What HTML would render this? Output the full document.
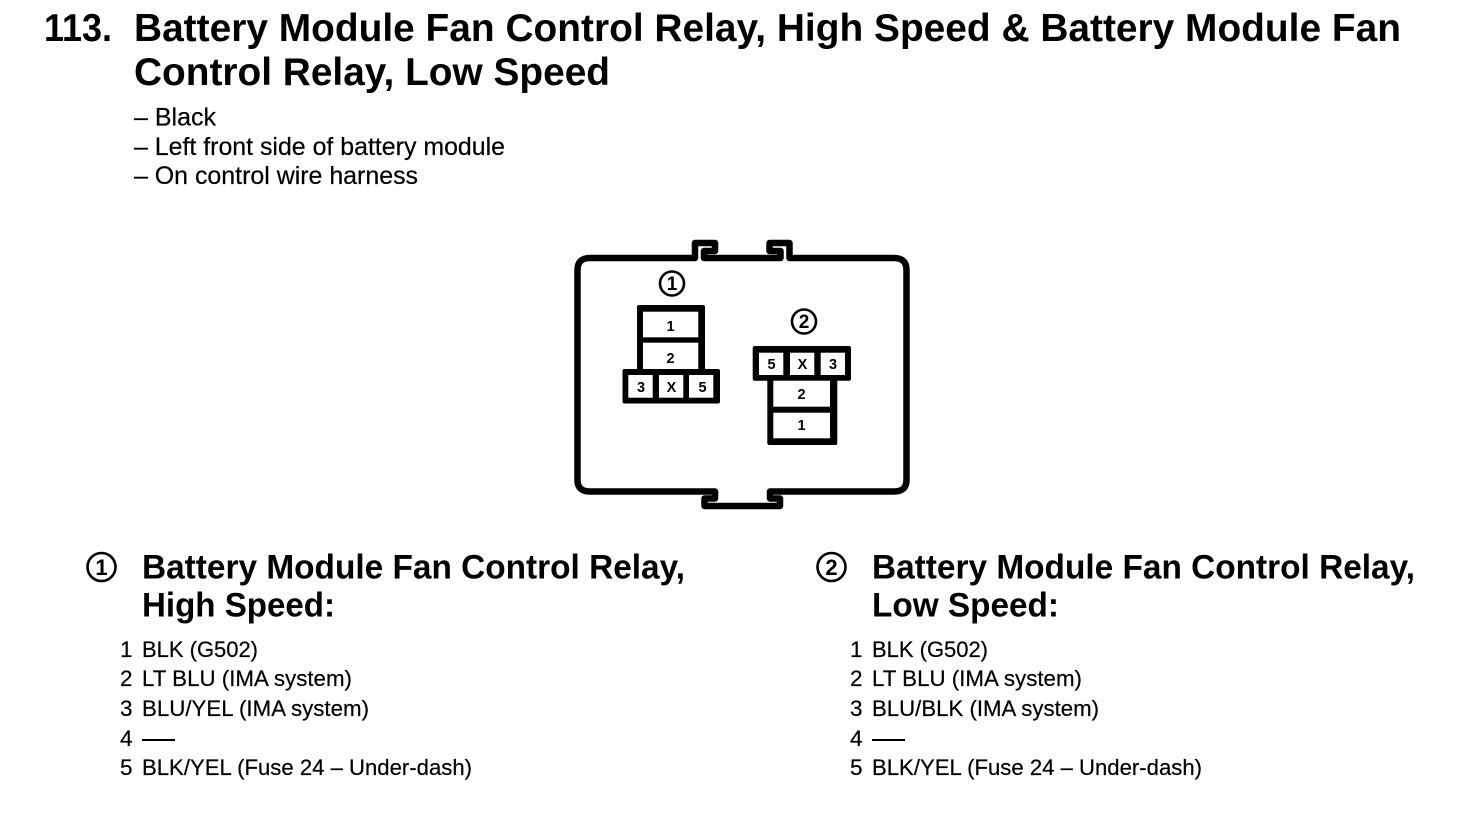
<!DOCTYPE html>
<html><head><meta charset="utf-8"><style>
html,body{margin:0;padding:0;background:#fff}
svg{display:block}
text{font-family:"Liberation Sans",sans-serif;fill:#000}
.t{font-size:39px;font-weight:bold}
.h{font-size:34px;font-weight:bold}
.b{font-size:25px;stroke:#000;stroke-width:.2px}
.l{font-size:22.5px;stroke:#000;stroke-width:.2px}
.p{font-size:14.5px;font-weight:bold;text-anchor:middle}
.c{font-size:19px;font-weight:bold;text-anchor:middle}
.c2{font-size:22px;font-weight:bold;text-anchor:middle}
</style></head><body>
<svg width="1472" height="818" viewBox="0 0 1472 818" xmlns="http://www.w3.org/2000/svg">
<rect width="1472" height="818" fill="#fff"/>
<text class="t" x="44" y="41" textLength="68" lengthAdjust="spacingAndGlyphs">113.</text>
<text class="t" x="134" y="41" textLength="1267" lengthAdjust="spacingAndGlyphs">Battery Module Fan Control Relay, High Speed &amp; Battery Module Fan</text>
<text class="t" x="134" y="85" textLength="476" lengthAdjust="spacingAndGlyphs">Control Relay, Low Speed</text>
<text class="b" x="134" y="125.5" textLength="82" lengthAdjust="spacingAndGlyphs">– Black</text>
<text class="b" x="134" y="155" textLength="371" lengthAdjust="spacingAndGlyphs">– Left front side of battery module</text>
<text class="b" x="134" y="184" textLength="284" lengthAdjust="spacingAndGlyphs">– On control wire harness</text>

<g fill="none" stroke="#000" stroke-width="6.5" stroke-linejoin="round" stroke-linecap="round">
<path d="M695 258H590Q577.5 258 577.5 270V480Q577.5 491.5 590 491.5H715V498.5H704.5V506H780V498.5H770V491.5H894Q906.5 491.5 906.5 480V270Q906.5 258 894 258H789.5V243H769.5V251H780.5V258H704V251H715V243H695Z"/>
</g>

<g fill="#000">
<rect x="637" y="305" width="68" height="68" rx="2"/>
<rect x="622.5" y="369" width="97.5" height="34.5" rx="2"/>
<rect x="752.7" y="346" width="98.3" height="34.7" rx="2"/>
<rect x="767.3" y="378" width="70" height="67" rx="2"/>
</g>
<g fill="#fff">
<rect x="643" y="311.7" width="55.3" height="25.6"/>
<rect x="643" y="342.7" width="55.3" height="26.3"/>
<rect x="628.3" y="375" width="24.4" height="22.7"/>
<rect x="659" y="375" width="24.3" height="22.7"/>
<rect x="689" y="375" width="24.3" height="22.7"/>
<rect x="759" y="352.7" width="24.3" height="22.3"/>
<rect x="790" y="352.7" width="24.3" height="22.3"/>
<rect x="820.7" y="352.7" width="24.3" height="22.3"/>
<rect x="773.3" y="380.7" width="56.7" height="26"/>
<rect x="773.3" y="412.7" width="56.7" height="25.6"/>
</g>
<text class="p" x="670.5" y="331">1</text>
<text class="p" x="670.5" y="363">2</text>
<text class="p" x="641" y="392">3</text>
<text class="p" x="671.5" y="392">X</text>
<text class="p" x="702.5" y="392">5</text>
<text class="p" x="771.5" y="369">5</text>
<text class="p" x="802.5" y="369">X</text>
<text class="p" x="833" y="369">3</text>
<text class="p" x="801.5" y="399">2</text>
<text class="p" x="801.5" y="430">1</text>

<g fill="none" stroke="#000" stroke-width="2.6">
<circle cx="672" cy="283.5" r="12"/>
<circle cx="804" cy="321.5" r="12"/>
<circle cx="101.5" cy="567" r="14"/>
<circle cx="831.5" cy="567" r="14"/>
</g>
<text class="c" x="672" y="290">1</text>
<text class="c" x="804" y="328">2</text>
<text class="c2" x="101.5" y="575">1</text>
<text class="c2" x="831.5" y="575">2</text>

<text class="h" x="142" y="578.5" textLength="543" lengthAdjust="spacingAndGlyphs">Battery Module Fan Control Relay,</text>
<text class="h" x="142" y="616.5" textLength="193" lengthAdjust="spacingAndGlyphs">High Speed:</text>
<text class="h" x="872" y="578.5" textLength="543" lengthAdjust="spacingAndGlyphs">Battery Module Fan Control Relay,</text>
<text class="h" x="872" y="616.5" textLength="187" lengthAdjust="spacingAndGlyphs">Low Speed:</text>

<text class="l" x="120" y="657">1</text><text class="l" x="142" y="657" textLength="116" lengthAdjust="spacingAndGlyphs">BLK (G502)</text>
<text class="l" x="120" y="686">2</text><text class="l" x="142" y="686" textLength="210" lengthAdjust="spacingAndGlyphs">LT BLU (IMA system)</text>
<text class="l" x="120" y="716">3</text><text class="l" x="142" y="716" textLength="227" lengthAdjust="spacingAndGlyphs">BLU/YEL (IMA system)</text>
<text class="l" x="120" y="746">4</text><rect x="142" y="739" width="33" height="2"/>
<text class="l" x="120" y="775">5</text><text class="l" x="142" y="775" textLength="330" lengthAdjust="spacingAndGlyphs">BLK/YEL (Fuse 24 – Under-dash)</text>

<text class="l" x="850" y="657">1</text><text class="l" x="872" y="657" textLength="116" lengthAdjust="spacingAndGlyphs">BLK (G502)</text>
<text class="l" x="850" y="686">2</text><text class="l" x="872" y="686" textLength="210" lengthAdjust="spacingAndGlyphs">LT BLU (IMA system)</text>
<text class="l" x="850" y="716">3</text><text class="l" x="872" y="716" textLength="227" lengthAdjust="spacingAndGlyphs">BLU/BLK (IMA system)</text>
<text class="l" x="850" y="746">4</text><rect x="872" y="739" width="33" height="2"/>
<text class="l" x="850" y="775">5</text><text class="l" x="872" y="775" textLength="330" lengthAdjust="spacingAndGlyphs">BLK/YEL (Fuse 24 – Under-dash)</text>
</svg>
</body></html>
